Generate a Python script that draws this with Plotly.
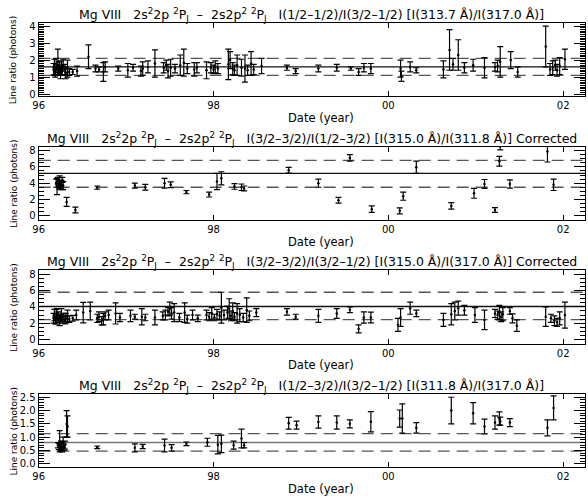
import plotly.graph_objects as go

# ---------------------------------------------------------------------------
# Mg VIII line-ratio time series (dates in decimal years)
# ---------------------------------------------------------------------------

# Panel 1: I(1/2-1/2)/I(3/2-1/2)  [I(313.7 A)/I(317.0 A)]
p1_date = [1996.17, 1996.18, 1996.19, 1996.20, 1996.21, 1996.22, 1996.23, 1996.24,
           1996.25, 1996.26, 1996.27, 1996.28, 1996.30, 1996.31, 1996.33, 1996.35,
           1996.39, 1996.44, 1996.57, 1996.65, 1996.69, 1996.74, 1996.76, 1996.91,
           1997.02, 1997.08, 1997.17, 1997.19, 1997.25, 1997.33, 1997.43, 1997.46,
           1997.48, 1997.51, 1997.56, 1997.62, 1997.66, 1997.70, 1997.78, 1997.81,
           1997.92, 1997.97, 1998.00, 1998.02, 1998.05, 1998.17, 1998.19, 1998.22,
           1998.24, 1998.27, 1998.32, 1998.36, 1998.39, 1998.43, 1998.46, 1998.55,
           1998.84, 1998.94, 1999.20, 1999.41, 1999.57, 1999.66, 1999.72, 1999.80,
           2000.14, 2000.15, 2000.25, 2000.32, 2000.63, 2000.70, 2000.74, 2000.80,
           2000.87, 2000.97, 2001.10, 2001.22, 2001.25, 2001.28, 2001.40, 2001.48,
           2001.80, 2001.85, 2001.88, 2001.91, 2001.93, 2001.96, 2002.02]
p1_ratio = [1.45, 1.60, 1.30, 1.75, 1.50, 1.90, 1.40, 1.60,
            1.20, 1.55, 1.35, 1.70, 1.45, 1.25, 1.50, 1.30,
            1.30, 1.35, 2.20, 1.50, 1.45, 1.30, 1.60, 1.50,
            1.40, 1.55, 1.35, 1.50, 1.60, 1.80, 1.55, 1.70,
            1.35, 1.55, 1.50, 1.70, 1.85, 1.50, 1.45, 1.55,
            1.40, 1.55, 1.45, 1.60, 1.50, 1.75, 2.00, 1.50,
            1.40, 1.70, 1.55, 1.50, 1.40, 1.80, 1.45, 1.65,
            1.55, 1.35, 1.50, 1.55, 1.50, 1.30, 1.55, 1.50,
            1.50, 1.05, 1.60, 1.40, 1.45, 2.60, 1.75, 2.30,
            1.55, 1.70, 1.55, 1.60, 1.65, 1.90, 2.00, 1.30,
            2.80, 1.45, 1.55, 1.70, 1.40, 1.65, 2.05]
p1_err = [0.35, 0.45, 0.30, 0.35, 0.25, 0.75, 0.30, 0.30,
          0.30, 0.40, 0.25, 0.35, 0.30, 0.35, 0.50, 0.20,
          0.15, 0.30, 0.70, 0.20, 0.15, 0.55, 0.30, 0.15,
          0.40, 0.20, 0.30, 0.40, 0.35, 0.80, 0.30, 0.30,
          0.40, 0.50, 0.25, 0.60, 0.80, 0.30, 0.40, 0.30,
          0.50, 0.30, 0.25, 0.35, 0.30, 0.90, 0.50, 0.35,
          0.30, 0.60, 0.50, 0.80, 0.30, 0.70, 0.30, 0.45,
          0.15, 0.15, 0.20, 0.20, 0.10, 0.20, 0.25, 0.30,
          0.50, 0.30, 0.30, 0.15, 0.50, 1.20, 0.35, 0.90,
          0.30, 0.35, 0.60, 0.25, 0.35, 0.90, 0.50, 0.30,
          1.20, 0.35, 0.40, 0.30, 0.35, 0.50, 0.60]

# Panel 2: I(3/2-3/2)/I(1/2-3/2)  [I(315.0 A)/I(311.8 A)], corrected
p2_date = [1996.20, 1996.21, 1996.22, 1996.23, 1996.24, 1996.25, 1996.26, 1996.27,
           1996.28, 1996.32, 1996.42, 1996.67, 1997.10, 1997.22, 1997.44, 1997.51,
           1997.69, 1997.95, 1998.04, 1998.09, 1998.24, 1998.32, 1998.35, 1998.86,
           1999.20, 1999.43, 1999.56, 1999.81, 2000.13, 2000.17, 2000.32, 2000.72,
           2000.98, 2001.10, 2001.22, 2001.27, 2001.28, 2001.39, 2001.82, 2001.89]
p2_ratio = [4.0, 3.6, 4.3, 3.8, 4.1, 3.5, 3.9, 4.4,
            3.7, 1.7, 0.7, 3.45, 3.7, 3.5, 4.0, 3.8,
            2.9, 2.6, 4.2, 4.6, 3.6, 3.5, 3.35, 5.6,
            4.0, 1.9, 7.1, 0.8, 0.6, 2.4, 5.95, 1.2,
            2.75, 3.9, 0.7, 6.7, 8.5, 3.9, 7.9, 3.8]
p2_err = [0.5, 1.0, 0.4, 0.35, 0.8, 0.3, 0.45, 0.3,
          0.5, 0.55, 0.35, 0.2, 0.3, 0.35, 0.6, 0.35,
          0.2, 0.3, 1.0, 0.8, 0.35, 0.4, 0.3, 0.35,
          0.5, 0.35, 0.4, 0.4, 0.37, 0.5, 0.75, 0.4,
          0.6, 0.55, 0.3, 0.6, 0.4, 0.5, 1.3, 0.7]

# Panel 3: I(3/2-3/2)/I(3/2-1/2)  [I(315.0 A)/I(317.0 A)], corrected
p3_date = [1996.17, 1996.18, 1996.19, 1996.20, 1996.21, 1996.22, 1996.23, 1996.24,
           1996.25, 1996.26, 1996.27, 1996.28, 1996.30, 1996.31, 1996.33, 1996.35,
           1996.39, 1996.43, 1996.51, 1996.59, 1996.67, 1996.69, 1996.72, 1996.74,
           1996.76, 1996.80, 1996.88, 1996.93, 1997.05, 1997.10, 1997.18, 1997.22,
           1997.33, 1997.42, 1997.45, 1997.48, 1997.50, 1997.52, 1997.55, 1997.61,
           1997.67, 1997.70, 1997.76, 1997.82, 1997.92, 1997.95, 1997.98, 1998.01,
           1998.04, 1998.07, 1998.09, 1998.12, 1998.16, 1998.18, 1998.20, 1998.22,
           1998.24, 1998.27, 1998.30, 1998.34, 1998.38, 1998.41, 1998.49, 1998.84,
           1998.94, 1999.20, 1999.41, 1999.56, 1999.66, 1999.72, 1999.80, 2000.11,
           2000.14, 2000.25, 2000.32, 2000.63, 2000.72, 2000.76, 2000.80, 2000.87,
           2000.99, 2001.10, 2001.22, 2001.25, 2001.27, 2001.29, 2001.31, 2001.39,
           2001.42, 2001.47, 2001.80, 2001.86, 2001.90, 2001.93, 2001.96, 2002.02]
p3_ratio = [2.6, 3.0, 2.4, 2.8, 3.2, 2.5, 2.9, 2.3,
            2.7, 3.0, 2.5, 2.8, 2.4, 2.6, 2.9, 2.5,
            2.6, 3.0, 3.3, 3.5, 2.6, 2.8, 2.3, 2.5,
            2.9, 3.0, 3.2, 2.7, 2.9, 2.8, 2.8, 2.7,
            2.7, 2.9, 3.0, 3.4, 3.8, 3.2, 3.3, 2.7,
            3.3, 2.5, 3.0, 2.6, 3.0, 2.8, 3.2, 2.7,
            3.1, 2.9, 3.9, 3.0, 3.3, 3.8, 2.9, 3.5,
            2.8, 3.2, 3.0, 2.7, 3.6, 2.9, 3.3, 3.4,
            2.8, 2.9, 3.2, 3.65, 1.3, 2.7, 2.7, 1.8,
            2.7, 3.85, 3.2, 2.4, 3.1, 3.5, 3.85, 3.6,
            3.0, 2.4, 3.2, 3.0, 3.3, 2.8, 3.1, 3.5,
            2.6, 1.7, 2.8, 2.6, 2.3, 2.1, 2.6, 3.0]
p3_err = [0.6, 0.7, 0.5, 0.9, 0.6, 0.4, 0.5, 0.6,
          0.4, 0.8, 0.5, 0.4, 0.5, 0.6, 0.7, 0.4,
          0.35, 0.6, 1.25, 1.1, 0.5, 0.6, 0.5, 0.7,
          0.5, 0.6, 1.3, 0.5, 0.7, 0.3, 1.0, 0.4,
          0.9, 0.5, 0.6, 0.5, 0.8, 0.7, 1.1, 0.5,
          1.2, 0.5, 0.6, 0.4, 0.6, 0.5, 0.7, 0.4,
          0.6, 0.5, 1.9, 0.6, 0.8, 1.2, 0.6, 1.0,
          0.5, 1.2, 0.8, 0.5, 1.5, 0.6, 0.5, 0.4,
          0.3, 0.8, 0.6, 0.35, 0.5, 0.7, 0.65, 0.8,
          1.1, 0.75, 0.4, 0.8, 1.3, 1.1, 0.85, 0.6,
          0.9, 1.2, 0.5, 0.5, 0.9, 0.6, 0.8, 0.4,
          0.55, 0.7, 1.2, 0.5, 0.6, 0.5, 0.8, 1.6]

# Panel 4: I(1/2-3/2)/I(3/2-1/2)  [I(311.8 A)/I(317.0 A)]
p4_date = [1996.22, 1996.23, 1996.24, 1996.25, 1996.26, 1996.27, 1996.28, 1996.29,
           1996.30, 1996.32, 1996.33, 1996.67, 1997.10, 1997.19, 1997.44, 1997.52,
           1997.69, 1997.93, 1998.05, 1998.09, 1998.23, 1998.32, 1998.35, 1998.86,
           1998.95, 1999.20, 1999.41, 1999.56, 1999.80, 2000.13, 2000.16, 2000.32,
           2000.72, 2000.97, 2001.10, 2001.22, 2001.27, 2001.28, 2001.39, 2001.82,
           2001.89]
p4_ratio = [0.70, 0.65, 0.85, 0.60, 0.75, 0.55, 0.80, 0.62,
            0.70, 1.50, 1.40, 0.62, 0.60, 0.65, 0.69, 0.60,
            0.75, 0.81, 0.72, 0.75, 0.70, 0.95, 0.70, 1.52,
            1.45, 1.57, 1.55, 1.50, 1.58, 1.70, 1.70, 1.35,
            2.00, 1.90, 1.40, 1.55, 1.70, 1.60, 1.55, 1.35,
            2.10]
p4_err = [0.10, 0.12, 0.40, 0.10, 0.10, 0.10, 0.20, 0.12,
          0.15, 0.50, 0.40, 0.05, 0.15, 0.08, 0.24, 0.12,
          0.07, 0.15, 0.35, 0.33, 0.15, 0.35, 0.10, 0.22,
          0.15, 0.23, 0.25, 0.15, 0.38, 0.32, 0.55, 0.20,
          0.50, 0.40, 0.28, 0.25, 0.25, 0.15, 0.15, 0.30,
          0.45]

# Reference levels per panel: (solid, upper dashed, lower dashed)
p1_levels = [1.60, 2.10, 1.10]
p2_levels = [5.20, 6.80, 3.50]
p3_levels = [4.05, 5.80, 2.45]
p4_levels = [0.80, 1.13, 0.48]

# Axis settings
date_range = [1996.0, 2002.25]
date_ticks = [1996, 1998, 2000, 2002]
date_labels = ["96", "98", "00", "02"]

p1_yrange = [-0.12, 4.2]
p2_yrange = [-0.5, 8.5]
p3_yrange = [-0.5, 8.5]
p4_yrange = [-0.13, 2.62]

# (major step, minor step, label format)
p1_ystep = (1, 0.1, "d")
p2_ystep = (2, 0.5, "d")
p3_ystep = (2, 0.5, "d")
p4_ystep = (0.5, 0.1, ".1f")

SP = "\u00a0"
head = ("Mg VIII" + SP * 3 + "2s<sup>2</sup>2p <sup>2</sup>P<sub>J</sub>" + SP * 2
        + "\u2013" + SP * 2 + "2s2p<sup>2</sup> <sup>2</sup>P<sub>J</sub>" + SP * 3)
titles = [
    head + "I(1/2\u20131/2)/I(3/2\u20131/2) [I(313.7 \u00c5)/I(317.0 \u00c5)]",
    head + "I(3/2\u20133/2)/I(1/2\u20133/2) [I(315.0 \u00c5)/I(311.8 \u00c5)] Corrected",
    head + "I(3/2\u20133/2)/I(3/2\u20131/2) [I(315.0 \u00c5)/I(317.0 \u00c5)] Corrected",
    head + "I(1/2\u20133/2)/I(3/2\u20131/2) [I(311.8 \u00c5)/I(317.0 \u00c5)]",
]

# ---------------------------------------------------------------------------
W, H = 588, 499
FONT = "DejaVu Sans"
X0, X1 = 33, 585              # plot box, pixels
TOPS = [21, 146, 271, 396]    # top of each panel box, pixels
BOX_H = 74
SOLID_COLORS = ["#111111", "#111111", "#111111", "#777777"]

panels = [
    (p1_date, p1_ratio, p1_err, p1_levels, p1_yrange, p1_ystep),
    (p2_date, p2_ratio, p2_err, p2_levels, p2_yrange, p2_ystep),
    (p3_date, p3_ratio, p3_err, p3_levels, p3_yrange, p3_ystep),
    (p4_date, p4_ratio, p4_err, p4_levels, p4_yrange, p4_ystep),
]

fig = go.Figure()
layout = dict(
    width=W, height=H,
    margin=dict(l=0, r=0, t=0, b=0),
    paper_bgcolor="white", plot_bgcolor="white",
    showlegend=False,
    font=dict(family=FONT, size=11, color="black"),
    annotations=[],
)

for i, (dates, vals, errs, levels, yr, ystep) in enumerate(panels):
    n = i + 1
    xa = "x" if n == 1 else f"x{n}"
    ya = "y" if n == 1 else f"y{n}"
    top = TOPS[i]
    bot = top + BOX_H
    major, minor_step, fmt = ystep

    # reference levels: solid line and two dashed bounds
    solid, hi, lo = levels
    fig.add_trace(go.Scatter(x=date_range, y=[solid, solid], mode="lines",
                             line=dict(color=SOLID_COLORS[i], width=1.4),
                             xaxis=xa, yaxis=ya, hoverinfo="skip"))
    for lvl in (hi, lo):
        fig.add_trace(go.Scatter(x=date_range, y=[lvl, lvl], mode="lines",
                                 line=dict(color="#555555", width=1.3, dash="12px,7px"),
                                 xaxis=xa, yaxis=ya, hoverinfo="skip"))

    # measurements with error bars
    fig.add_trace(go.Scatter(
        x=dates, y=vals, mode="markers",
        marker=dict(size=2.5, color="black"),
        error_y=dict(type="data", array=errs, visible=True,
                     color="black", thickness=1.2, width=3),
        xaxis=xa, yaxis=ya))

    xkey = "xaxis" if n == 1 else f"xaxis{n}"
    ykey = "yaxis" if n == 1 else f"yaxis{n}"
    layout[xkey] = dict(
        domain=[X0 / W, X1 / W], anchor=ya, range=date_range,
        tickmode="array", tickvals=date_ticks, ticktext=date_labels,
        ticks="inside", ticklen=5, tickwidth=1, tickcolor="black",
        showline=True, linecolor="black", linewidth=1, mirror="ticks",
        showgrid=False, zeroline=False, tickfont=dict(size=10),
    )
    layout[ykey] = dict(
        domain=[1 - bot / H, 1 - top / H], anchor=xa, range=yr,
        tickmode="linear", tick0=0, dtick=major, tickformat=fmt,
        ticks="inside", ticklen=11, tickwidth=1, tickcolor="black",
        minor=dict(ticks="inside", ticklen=5, dtick=minor_step, tick0=0,
                   tickcolor="black", tickwidth=1, showgrid=False),
        showline=True, linecolor="black", linewidth=1, mirror="ticks",
        showgrid=False, zeroline=False, tickfont=dict(size=10),
    )

    layout["annotations"] += [
        dict(text=titles[i], xref="paper", yref="paper",
             x=(X0 + X1) / 2 / W, y=1 - (top - 8) / H,
             xanchor="center", yanchor="middle", showarrow=False,
             font=dict(size=12.5)),
        dict(text="Date (year)", xref="paper", yref="paper",
             x=318 / W, y=1 - (bot + 22) / H,
             xanchor="center", yanchor="middle", showarrow=False,
             font=dict(size=11.5)),
        dict(text="Line ratio (photons)", xref="paper", yref="paper",
             x=8 / W, y=1 - (top + BOX_H / 2) / H, textangle=-90,
             xanchor="center", yanchor="middle", showarrow=False,
             font=dict(size=9)),
    ]

fig.update_layout(**layout)
fig.write_html("out.html")
